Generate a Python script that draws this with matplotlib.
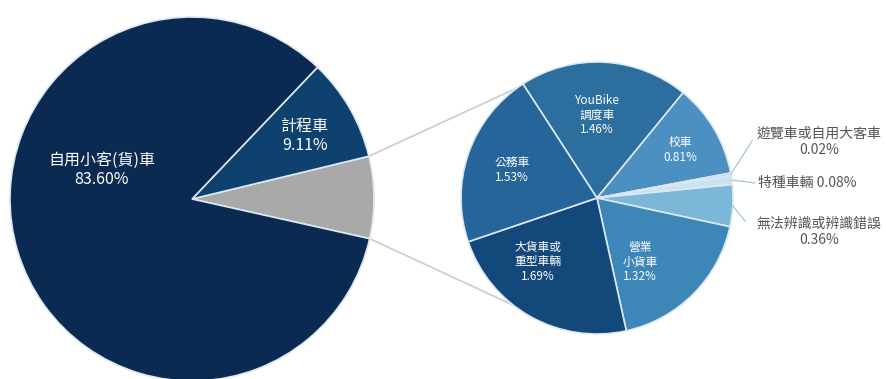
import numpy as np
import matplotlib.pyplot as plt

plt.rcParams["font.family"] = ["Noto Sans CJK TC", "DejaVu Sans"]

# main split: others (gray) / taxi / private car
main_labels = ["其他", "計程車", "自用小客(貨)車"]
main_values = [7.27, 9.11, 83.60]
main_colors = ["#a9a9a9", "#0f416f", "#0b2a51"]

# breakdown of "others"
sub_labels = ["YouBike\n調度車", "校車", "遊覽車或自用大客車", "特種車輛",
              "無法辨識或辨識錯誤", "營業\n小貨車", "大貨車或\n重型車輛", "公務車"]
sub_values = [1.46, 0.81, 0.02, 0.08, 0.36, 1.32, 1.69, 1.53]
sub_colors = ["#2c6e9d", "#4b90c1", "#a3cde4", "#cbe3f1",
              "#7cb6d8", "#3d86b8", "#13487b", "#26659a"]

W, H = 886, 379
fig = plt.figure(figsize=(W / 100, H / 100), dpi=100)
ax = fig.add_axes([0, 0, 1, 1])

c1, r1 = (192, 180), 182
c2, r2 = (597, 181), 136

gray_span = main_values[0] / sum(main_values) * 360
start1 = -gray_span / 2 + 0.5
w1, _ = ax.pie(main_values, colors=main_colors, center=c1, radius=r1,
               startangle=start1, counterclock=True, frame=True,
               wedgeprops=dict(edgecolor="#dbe8f4", linewidth=1.2))

w2, _ = ax.pie(sub_values, colors=sub_colors, center=c2, radius=r2,
               startangle=123, counterclock=False, frame=True,
               wedgeprops=dict(edgecolor="#dbe8f4", linewidth=1.2))
ax.set_xlim(0, W)
ax.set_ylim(0, H)
ax.set_aspect("equal")
ax.axis("off")

# connector lines from the gray wedge to the breakdown pie
g = w1[0]
for ang1, ang2 in [(g.theta2, 126), (g.theta1, -128)]:
    p1 = (c1[0] + r1 * np.cos(np.radians(ang1)), c1[1] + r1 * np.sin(np.radians(ang1)))
    p2 = (c2[0] + r2 * np.cos(np.radians(ang2)), c2[1] + r2 * np.sin(np.radians(ang2)))
    ax.plot([p1[0], p2[0]], [p1[1], p2[1]], color="#cfcfcf", lw=1.3, zorder=0)

white = dict(color="white", ha="center", va="center", linespacing=1.15)
ax.text(102, 209, f"{main_labels[2]}\n{main_values[2]:.2f}%", fontsize=11.5, **white)
ax.text(305, 243, f"{main_labels[1]}\n{main_values[1]:.2f}%", fontsize=11.5, **white)

inner_pos = {0: (597, 264), 1: (680, 229), 5: (640, 117), 6: (538, 117), 7: (512, 209)}
for i, (x, y) in inner_pos.items():
    ax.text(x, y, f"{sub_labels[i]}\n{sub_values[i]:.2f}%", fontsize=8.5, **white)

# small wedges labelled outside with leader lines
grey = dict(color="#555555", fontsize=10, va="center", linespacing=1.25)
outer = [(2, (752, 238), (819, 237), "center"),
         (3, (755, 196), (758, 196), "left"),
         (4, (745, 158), (819, 147), "center")]
for i, tip, txt, ha in outer:
    wd = w2[i]
    mid = np.radians((wd.theta1 + wd.theta2) / 2)
    edge = (c2[0] + r2 * np.cos(mid), c2[1] + r2 * np.sin(mid))
    ax.plot([edge[0], tip[0]], [edge[1], tip[1]], color="#9fc7e0", lw=0.9)
    if ha == "left":
        s = f"{sub_labels[i]} {sub_values[i]:.2f}%"
    else:
        s = f"{sub_labels[i]}\n{sub_values[i]:.2f}%"
    ax.text(txt[0], txt[1], s, ha=ha, **grey)

fig.savefig("out.png", dpi=100)
